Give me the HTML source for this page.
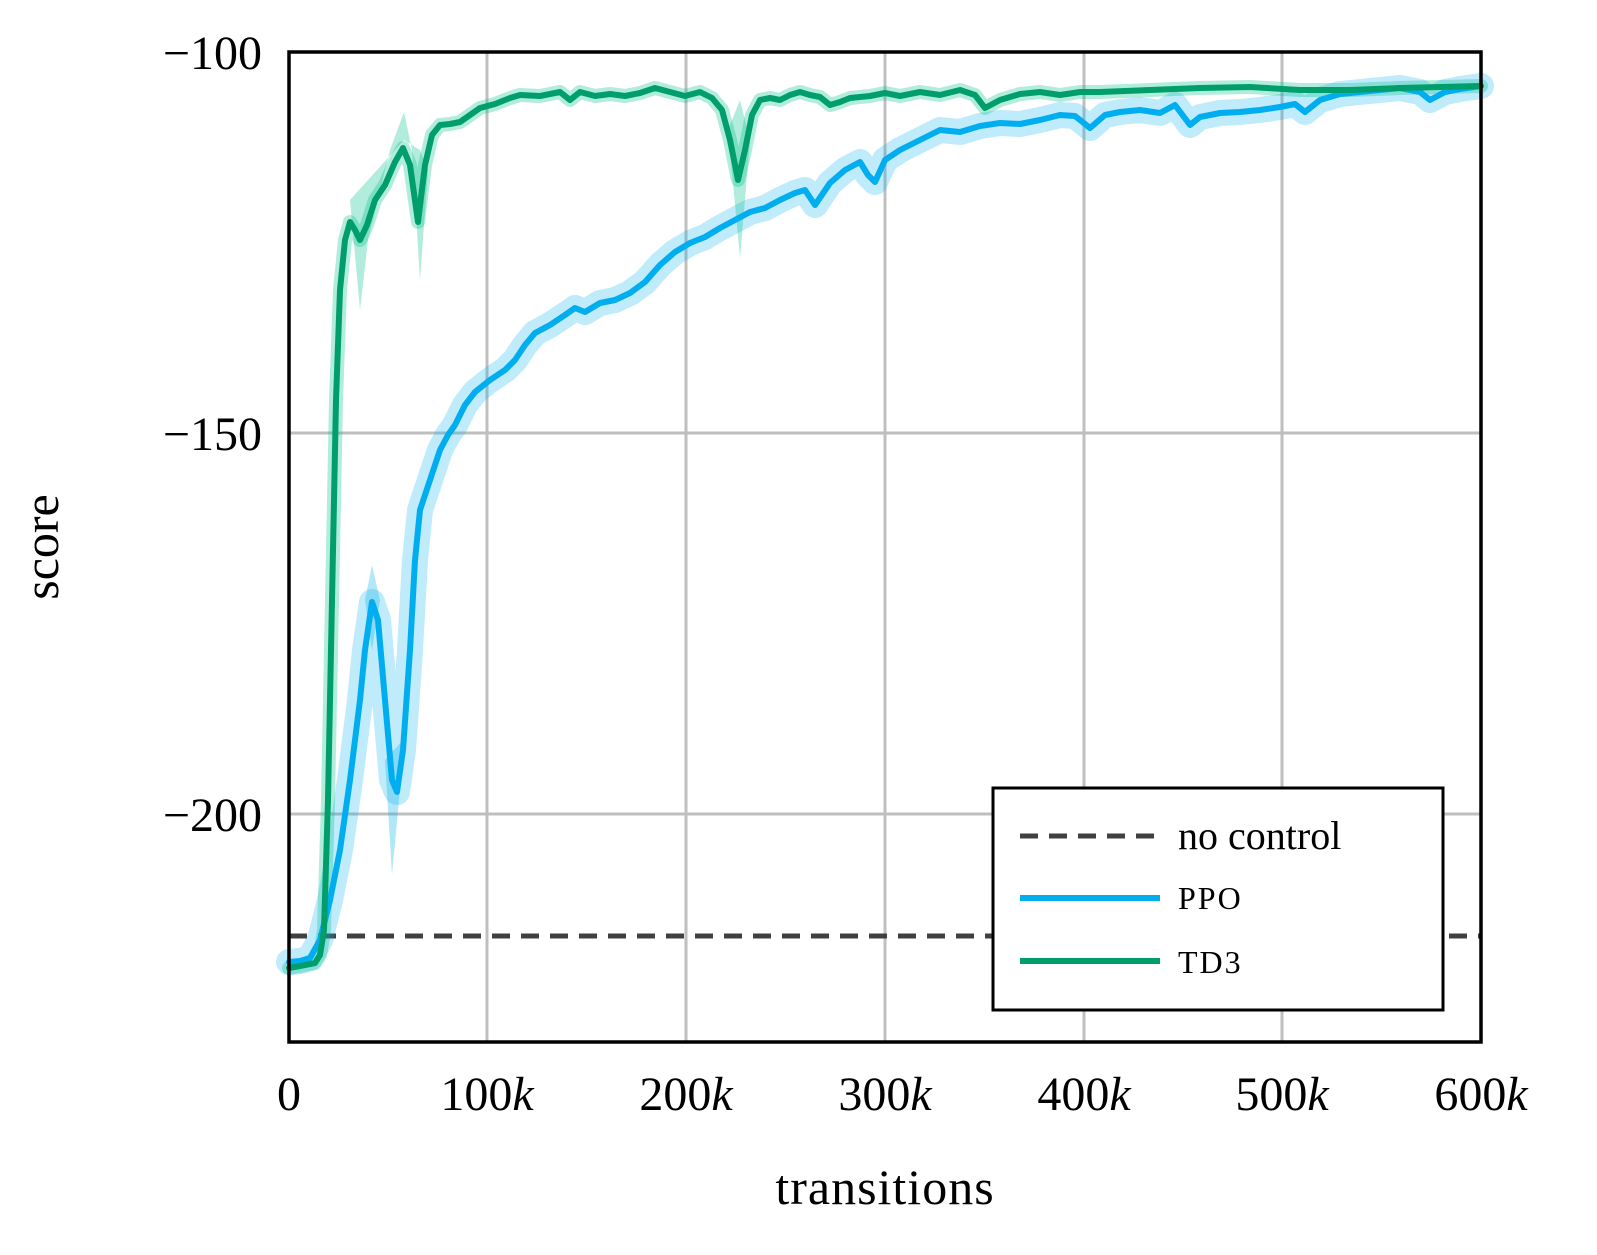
<!DOCTYPE html>
<html><head><meta charset="utf-8"><style>
html,body{margin:0;padding:0;background:#fff;}
svg{display:block;}
text{font-family:"Liberation Serif",serif;fill:#000;}
</style></head><body>
<svg width="1597" height="1255" viewBox="0 0 1597 1255" xmlns="http://www.w3.org/2000/svg">
<rect width="1597" height="1255" fill="#fff"/>
<g stroke="#bfbfbf" stroke-width="3">
<line x1="487" y1="52" x2="487" y2="1042"/><line x1="686" y1="52" x2="686" y2="1042"/>
<line x1="885" y1="52" x2="885" y2="1042"/><line x1="1084" y1="52" x2="1084" y2="1042"/>
<line x1="1282" y1="52" x2="1282" y2="1042"/>
<line x1="289" y1="433" x2="1481" y2="433"/><line x1="289" y1="814" x2="1481" y2="814"/>
</g>
<line x1="289" y1="936" x2="1481" y2="936" stroke="#404040" stroke-width="5" stroke-dasharray="18,11"/>
<g fill="none" stroke-linejoin="round" stroke-linecap="round">
<polyline stroke="#00aeef" stroke-opacity="0.25" stroke-width="26" points="289,962 300,961 310,958 320,940 330,900 340,850 350,780 360,700 365,650 372,602 378,620 385,700 392,780 397,792 403,750 410,650 415,560 420,510 430,480 440,450 448,435 455,425 465,405 475,392 490,380 505,370 515,360 525,345 535,333 550,325 565,315 575,308 585,312 600,303 615,300 630,293 645,282 660,265 675,252 690,243 705,237 720,228 735,220 750,212 765,208 780,200 795,193 805,190 815,205 830,183 845,170 860,162 868,175 875,182 885,160 900,150 920,140 940,130 960,132 980,126 1000,123 1020,124 1040,120 1060,115 1075,116 1090,128 1105,115 1120,112 1140,110 1160,113 1175,105 1190,125 1200,117 1220,113 1240,112 1260,110 1280,107 1295,104 1305,112 1320,100 1340,94 1360,92 1380,90 1400,88 1420,92 1430,100 1445,92 1460,89 1481,86"/>
<polyline stroke="#00c08a" stroke-opacity="0.3" stroke-width="14" points="289,968 300,966 315,963 320,955 324,930 328,800 332,600 336,400 340,290 345,240 350,222 355,230 360,240 367,225 375,200 385,185 395,162 403,148 410,165 418,222 425,165 432,135 440,125 450,124 460,122 470,115 480,108 495,104 510,98 520,95 540,96 560,92 570,100 580,92 595,96 610,94 625,96 640,93 655,88 670,92 685,96 700,92 712,98 722,110 730,140 738,180 745,150 752,115 760,100 770,98 780,100 790,95 800,92 810,95 820,97 830,105 840,102 850,98 870,96 885,93 900,96 920,92 940,95 960,90 975,95 985,108 1000,100 1020,94 1040,92 1060,95 1080,92 1100,92 1150,90 1200,88 1250,87 1300,90 1350,90 1400,88 1481,86"/>
</g>
<g fill-opacity="0.3">
<polygon fill="#00aeef" points="365,600 372,565 380,600 372,650"/>
<polygon fill="#00aeef" points="385,760 392,875 399,800 403,740"/>
<polygon fill="#00c08a" points="350,200 360,310 368,240 390,150 404,112 412,150 420,280 428,170 420,150 404,140"/>
<polygon fill="#00c08a" points="728,130 740,258 750,140 740,100"/>
</g>
<g fill="none" stroke-width="6" stroke-linejoin="round" stroke-linecap="round">
<polyline stroke="#00aeef" points="289,962 300,961 310,958 320,940 330,900 340,850 350,780 360,700 365,650 372,602 378,620 385,700 392,780 397,792 403,750 410,650 415,560 420,510 430,480 440,450 448,435 455,425 465,405 475,392 490,380 505,370 515,360 525,345 535,333 550,325 565,315 575,308 585,312 600,303 615,300 630,293 645,282 660,265 675,252 690,243 705,237 720,228 735,220 750,212 765,208 780,200 795,193 805,190 815,205 830,183 845,170 860,162 868,175 875,182 885,160 900,150 920,140 940,130 960,132 980,126 1000,123 1020,124 1040,120 1060,115 1075,116 1090,128 1105,115 1120,112 1140,110 1160,113 1175,105 1190,125 1200,117 1220,113 1240,112 1260,110 1280,107 1295,104 1305,112 1320,100 1340,94 1360,92 1380,90 1400,88 1420,92 1430,100 1445,92 1460,89 1481,86"/>
<polyline stroke="#009e6a" points="289,968 300,966 315,963 320,955 324,930 328,800 332,600 336,400 340,290 345,240 350,222 355,230 360,240 367,225 375,200 385,185 395,162 403,148 410,165 418,222 425,165 432,135 440,125 450,124 460,122 470,115 480,108 495,104 510,98 520,95 540,96 560,92 570,100 580,92 595,96 610,94 625,96 640,93 655,88 670,92 685,96 700,92 712,98 722,110 730,140 738,180 745,150 752,115 760,100 770,98 780,100 790,95 800,92 810,95 820,97 830,105 840,102 850,98 870,96 885,93 900,96 920,92 940,95 960,90 975,95 985,108 1000,100 1020,94 1040,92 1060,95 1080,92 1100,92 1150,90 1200,88 1250,87 1300,90 1350,90 1400,88 1481,86"/>
</g>
<rect x="289" y="52" width="1192" height="990" fill="none" stroke="#000" stroke-width="3.5"/>
<rect x="993" y="788" width="450" height="222" fill="#fff" stroke="#000" stroke-width="3"/>
<line x1="1020" y1="836" x2="1160" y2="836" stroke="#404040" stroke-width="5" stroke-dasharray="18,11"/>
<line x1="1020" y1="898" x2="1160" y2="898" stroke="#00aeef" stroke-width="6"/>
<line x1="1020" y1="961" x2="1160" y2="961" stroke="#009e6a" stroke-width="6"/>
<text x="1178" y="849" font-size="40">no control</text>
<text x="1178" y="909" font-size="32" letter-spacing="2">PPO</text>
<text x="1178" y="973" font-size="32" letter-spacing="2">TD3</text>
<g font-size="48" text-anchor="end">
<text x="262" y="69">−100</text><text x="262" y="450">−150</text><text x="262" y="831">−200</text>
</g>
<g font-size="48" text-anchor="middle">
<text x="289" y="1110">0</text>
<text x="487" y="1110">100<tspan font-style="italic">k</tspan></text>
<text x="686" y="1110">200<tspan font-style="italic">k</tspan></text>
<text x="885" y="1110">300<tspan font-style="italic">k</tspan></text>
<text x="1084" y="1110">400<tspan font-style="italic">k</tspan></text>
<text x="1282" y="1110">500<tspan font-style="italic">k</tspan></text>
<text x="1481" y="1110">600<tspan font-style="italic">k</tspan></text>
<text x="885" y="1204" font-size="50" letter-spacing="1">transitions</text>
<text transform="translate(58,547) rotate(-90)" font-size="50">score</text>
</g>
</svg>
</body></html>
